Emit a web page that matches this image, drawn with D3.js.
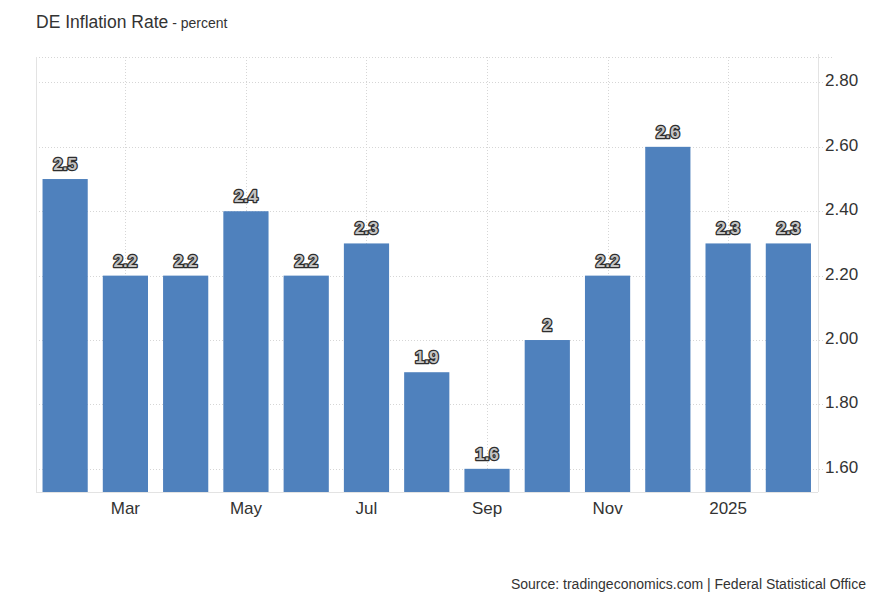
<!DOCTYPE html>
<html><head><meta charset="utf-8">
<script src="https://cdn.jsdelivr.net/npm/d3@7"></script>
<style>body{margin:0;background:#fff;} text{font-family:"Liberation Sans",Arial,sans-serif;}</style>
</head><body>
<svg id="c" width="882" height="603"></svg>
<script>
const months = ["Feb","Mar","Apr","May","Jun","Jul","Aug","Sep","Oct","Nov","Dec","2025","Feb25"];
const values = [2.5,2.2,2.2,2.4,2.2,2.3,1.9,1.6,2.0,2.2,2.6,2.3,2.3];
const valueLabels = ["2.5","2.2","2.2","2.4","2.2","2.3","1.9","1.6","2","2.2","2.6","2.3","2.3"];
const xTickMonths = ["Mar","May","Jul","Sep","Nov","2025"];
const yTicks = [1.6,1.8,2.0,2.2,2.4,2.6,2.8];

const svg = d3.select("#c");
const pL = 36, pR = 818, pT = 57, pB = 492;
const x = d3.scaleBand().domain(months).range([pL+0.5, pR-1]).paddingInner(0.25).paddingOuter(0.1);
const y = d3.scaleLinear().domain([1.528, 2.879]).range([pB, pT]);

// horizontal grid
svg.append("g").selectAll("line").data(yTicks).join("line")
  .attr("x1", pL).attr("x2", pR+5)
  .attr("y1", d=>Math.round(y(d))+0.5).attr("y2", d=>Math.round(y(d))+0.5)
  .attr("stroke", "#d6d6d6").attr("stroke-dasharray", "1,2");
svg.append("line").attr("x1", pL).attr("x2", pR+14).attr("y1", pT+0.5).attr("y2", pT+0.5)
  .attr("stroke", "#d6d6d6").attr("stroke-dasharray", "1,2");
// vertical grid
svg.append("g").selectAll("line").data(xTickMonths).join("line")
  .attr("x1", d=>Math.round(x(d)+x.bandwidth()/2)+0.5).attr("x2", d=>Math.round(x(d)+x.bandwidth()/2)+0.5)
  .attr("y1", pT).attr("y2", pB)
  .attr("stroke", "#d6d6d6").attr("stroke-dasharray", "1,2");

// bars
svg.append("g").selectAll("rect").data(values).join("rect")
  .attr("x", (d,i)=>x(months[i])).attr("width", x.bandwidth())
  .attr("y", d=>y(d)).attr("height", d=>pB - y(d))
  .attr("fill", "#4f81bd");

// borders
svg.append("line").attr("x1", pL+0.5).attr("x2", pL+0.5).attr("y1", pT).attr("y2", pB).attr("stroke", "#e3e3e3");
svg.append("line").attr("x1", pR+0.5).attr("x2", pR+0.5).attr("y1", pT-3).attr("y2", pB).attr("stroke", "#e3e3e3");
svg.append("line").attr("x1", pL).attr("x2", pR).attr("y1", pB+0.5).attr("y2", pB+0.5).attr("stroke", "#e3e3e3");

// value labels
svg.append("g").selectAll("text").data(values).join("text")
  .attr("x", (d,i)=>x(months[i])+x.bandwidth()/2).attr("y", d=>y(d)-9)
  .attr("text-anchor", "middle").attr("font-size", 17).attr("font-weight", "bold")
  .attr("fill", "#c4c4c4").attr("stroke", "#2e2e2e").attr("stroke-width", 2.6)
  .attr("paint-order", "stroke").attr("stroke-linejoin", "round")
  .text((d,i)=>valueLabels[i]);

// y axis labels
svg.append("g").selectAll("text").data(yTicks).join("text")
  .attr("x", 825).attr("y", d=>y(d)+4)
  .attr("font-size", 17).attr("fill", "#333")
  .text(d=>d3.format(".2f")(d));

// x axis labels
svg.append("g").selectAll("text").data(xTickMonths).join("text")
  .attr("x", d=>x(d)+x.bandwidth()/2).attr("y", 514)
  .attr("text-anchor", "middle").attr("font-size", 17).attr("fill", "#333")
  .text(d=>d);

// title
const t = svg.append("text").attr("x", 36).attr("y", 28).attr("fill", "#333");
t.append("tspan").attr("font-size", 17.5).text("DE Inflation Rate");
t.append("tspan").attr("font-size", 14).text(" - percent");

svg.append("text").attr("x", 866).attr("y", 589).attr("text-anchor", "end")
  .attr("font-size", 14).attr("fill", "#333")
  .text("Source: tradingeconomics.com | Federal Statistical Office");
</script>
</body></html>
